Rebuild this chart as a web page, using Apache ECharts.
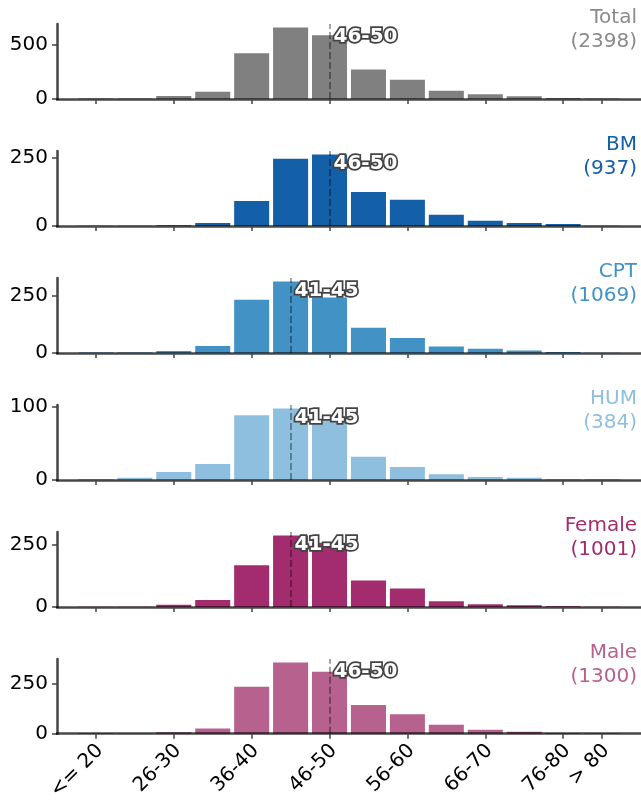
<!DOCTYPE html>
<html>
<head>
<meta charset="utf-8">
<script src="https://cdn.jsdelivr.net/npm/echarts@6/dist/echarts.min.js"></script>
<style>
  html, body { margin: 0; padding: 0; background: #fff; }
  #chart { width: 641px; height: 803px; }
</style>
</head>
<body>
<div id="chart"></div>
<script>
// age bins (x categories)
const ageBins = ['<= 20', '21-25', '26-30', '31-35', '36-40', '41-45', '46-50',
  '51-55', '56-60', '61-65', '66-70', '71-75', '76-80', '> 80'];
const tickBins = ['<= 20', '26-30', '36-40', '46-50', '56-60', '66-70', '76-80', '> 80'];

const panelNames = ['Total', 'BM', 'CPT', 'HUM', 'Female', 'Male'];
const panelCounts = [2398, 937, 1069, 384, 1001, 1300];
const medianBins = ['46-50', '46-50', '41-45', '41-45', '41-45', '46-50'];
const yTickValues = [[0, 500], [0, 250], [0, 250], [0, 100], [0, 250], [0, 250]];

const totalVals = [5, 5, 28, 66, 420, 655, 585, 270, 176, 75, 44, 25, 9, 5];
const bmVals = [1, 1, 3, 11, 92, 247, 262, 125, 96, 41, 19, 11, 7, 1];
const cptVals = [2, 2, 9, 31, 233, 312, 242, 110, 66, 28, 19, 11, 4, 1];
const humVals = [1, 3, 11, 22, 89, 98, 82, 32, 18, 8, 4, 3, 1, 1];
const femaleVals = [1, 1, 9, 28, 167, 285, 256, 106, 74, 23, 11, 7, 3, 1];
const maleVals = [2, 1, 7, 26, 233, 353, 308, 142, 97, 45, 20, 10, 4, 2];
const panelVals = [totalVals, bmVals, cptVals, humVals, femaleVals, maleVals];

const barColors = ['#808080', '#135fa8', '#4292c6', '#8fbfdf', '#a22c6e', '#b7618f'];
const textColors = ['#8a8a8a', '#135fa8', '#4292c6', '#8fbfdf', '#a22c6e', '#b7618f'];

const FONT = 'DejaVu Sans';
// one empty slot on each side so the first/last bar sits one bin in from the edge
const xCats = [''].concat(ageBins, ['']);
const showTick = (idx, val) => tickBins.indexOf(val) >= 0;

const chart = echarts.init(document.getElementById('chart'));

const grids = [], xAxes = [], yAxes = [], series = [], graphics = [];
panelVals.forEach((vals, i) => {
  const top = 24 + i * 127;
  const yMax = Math.max(...vals) * 1.05;
  grids.push({ left: 57, right: 0, top: top, height: 75 });
  xAxes.push({
    type: 'category',
    gridIndex: i,
    data: xCats,
    boundaryGap: false,
    z: 5,
    axisLine: { lineStyle: { color: 'rgba(0,0,0,0.72)', width: 2.5 } },
    axisTick: { show: true, length: 5, interval: showTick, lineStyle: { color: '#444', width: 1.5 } },
    axisLabel: {
      show: i === panelVals.length - 1,
      interval: showTick,
      rotate: 45,
      verticalAlign: 'top',
      padding: [0, 4, 0, 0],
      margin: 4,
      fontSize: 20,
      fontFamily: FONT,
      color: '#000'
    },
    splitLine: { show: false }
  });
  yAxes.push({
    type: 'value',
    gridIndex: i,
    min: 0,
    max: yMax,
    axisLine: { show: true, lineStyle: { color: '#444', width: 2.5 } },
    axisTick: { show: true, length: 5, customValues: yTickValues[i], lineStyle: { color: '#444', width: 1.5 } },
    axisLabel: { customValues: yTickValues[i], margin: 9, fontSize: 20, fontFamily: FONT, color: '#000' },
    splitLine: { show: false }
  });
  series.push({
    type: 'bar',
    xAxisIndex: i,
    yAxisIndex: i,
    data: ['-'].concat(vals, ['-']),
    barCategoryGap: '10%',
    itemStyle: { color: barColors[i] },
    markLine: {
      silent: true,
      symbol: ['none', 'none'],
      label: { show: false },
      lineStyle: { color: 'rgba(0,0,0,0.35)', type: [7, 3], width: 2 },
      data: [{ xAxis: medianBins[i] }]
    },
    markPoint: {
      silent: true,
      symbol: 'circle',
      symbolSize: 0,
      itemStyle: { color: 'transparent' },
      label: {
        show: true,
        position: 'right',
        distance: 4,
        formatter: medianBins[i],
        color: '#fff',
        fontWeight: 'bold',
        fontSize: 20,
        fontFamily: FONT,
        textBorderColor: '#444',
        textBorderWidth: 3.5
      },
      data: [{ coord: [medianBins[i], yMax * 0.83] }]
    }
  });
  graphics.push({
    type: 'text',
    x: 637,
    y: top - 18,
    style: {
      text: panelNames[i] + '\n(' + panelCounts[i] + ')',
      align: 'right',
      verticalAlign: 'top',
      lineHeight: 24,
      fontSize: 20,
      fontFamily: FONT,
      fill: textColors[i]
    }
  });
});

chart.setOption({
  animation: false,
  grid: grids,
  xAxis: xAxes,
  yAxis: yAxes,
  series: series,
  graphic: graphics
});
</script>
</body>
</html>
